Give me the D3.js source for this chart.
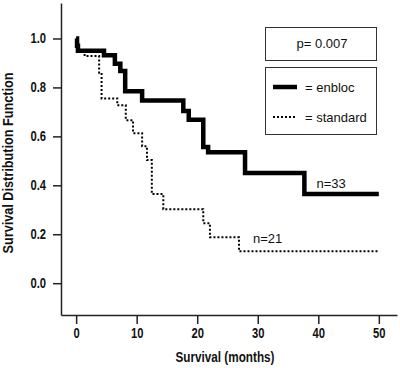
<!DOCTYPE html>
<html>
<head>
<meta charset="utf-8">
<script src="https://cdn.jsdelivr.net/npm/d3@7"></script>
<style>
  body { margin: 0; background: #fff; }
  .tick text, .lab { font-family: "Liberation Sans Narrow", "Liberation Sans", Arial, sans-serif; font-weight: bold; fill: #111; }
  .leg { font-family: "Liberation Sans", Arial, sans-serif; font-size: 13px; fill: #111; }
</style>
</head>
<body>
<svg width="400" height="368"></svg>
<script>
// Kaplan-Meier steps (months, survival)
const enblocTime = [0, 0.15, 0.3, 4.6, 6.4, 7.3, 8.1, 10.9, 17.7, 18.6, 21.0, 21.8, 27.9, 37.7, 50];
const enblocSurv = [1.0, 0.97, 0.95, 0.931, 0.897, 0.867, 0.784, 0.747, 0.704, 0.668, 0.557, 0.535, 0.450, 0.364, 0.364];
const standardTime = [0, 0.3, 1.4, 3.8, 4.2, 6.8, 8.2, 9.4, 10.9, 11.7, 12.5, 14.4, 21.0, 22.1, 26.9, 50];
const standardSurv = [1.0, 0.952, 0.928, 0.86, 0.755, 0.727, 0.666, 0.613, 0.56, 0.503, 0.364, 0.302, 0.245, 0.188, 0.131, 0.131];
const xTicks = [0, 10, 20, 30, 40, 50];
const yTicks = [0, 0.2, 0.4, 0.6, 0.8, 1.0];
const series = [
  { name: "= enbloc", n: "n=33", time: enblocTime, surv: enblocSurv },
  { name: "= standard", n: "n=21", time: standardTime, surv: standardSurv },
];
const pText = "p= 0.007";

const svg = d3.select("svg");

// squeeze text to look like a condensed face
function condense(sel, k) {
  sel.each(function () {
    const w = this.getComputedTextLength();
    d3.select(this).attr("textLength", w * k).attr("lengthAdjust", "spacingAndGlyphs");
  });
}

const x = d3.scaleLinear().domain([-2.5, 53]).range([61, 397]);
const y = d3.scaleLinear().domain([-0.13, 1.145]).range([315, 3]);

// axes
const xAxis = svg.append("g")
  .attr("transform", "translate(0,315)")
  .call(d3.axisBottom(x).tickValues(xTicks).tickSize(9).tickSizeOuter(0).tickPadding(4).tickFormat(d3.format("d")));
const yAxis = svg.append("g")
  .attr("transform", "translate(61,0)")
  .call(d3.axisLeft(y).tickValues(yTicks).tickSize(8).tickSizeOuter(0).tickPadding(7).tickFormat(d3.format(".1f")));
[xAxis, yAxis].forEach(g => {
  g.select(".domain").attr("stroke", "#222").attr("stroke-width", 1.5);
  g.selectAll(".tick line").attr("stroke", "#222").attr("stroke-width", 1.5);
  g.selectAll(".tick text").style("font-size", "14px").call(condense, 0.8);
});

svg.append("text").attr("class", "lab")
  .attr("x", 225).attr("y", 362).attr("text-anchor", "middle")
  .style("font-size", "15px").text("Survival (months)")
  .attr("textLength", 99).attr("lengthAdjust", "spacingAndGlyphs");
svg.append("text").attr("class", "lab")
  .attr("transform", "translate(13,163) rotate(-90)").attr("text-anchor", "middle")
  .style("font-size", "15px").text("Survival Distribution Function")
  .attr("textLength", 181).attr("lengthAdjust", "spacingAndGlyphs");

// curves
const line = d3.line().x(d => x(d[0])).y(d => y(d[1])).curve(d3.curveStepAfter);
const styles = [
  { width: 4.5, dash: null },
  { width: 2, dash: "2,2" },
];
series.forEach((s, i) => {
  svg.append("path")
    .datum(d3.zip(s.time, s.surv))
    .attr("d", line)
    .attr("fill", "none")
    .attr("stroke", "#000")
    .attr("stroke-width", styles[i].width)
    .attr("stroke-dasharray", styles[i].dash);
});

svg.append("text").attr("class", "leg").attr("x", x(39.7)).attr("y", y(0.389)).text(series[0].n);
svg.append("text").attr("class", "leg").attr("x", x(29.2)).attr("y", y(0.164)).text(series[1].n);

// legend boxes
svg.append("rect").attr("x", 265.5).attr("y", 27.5).attr("width", 111).attr("height", 33)
  .attr("fill", "none").attr("stroke", "#333").attr("stroke-width", 1);
svg.append("text").attr("class", "leg").attr("x", 322).attr("y", 48).attr("text-anchor", "middle").text(pText);

svg.append("rect").attr("x", 265.5).attr("y", 67.5).attr("width", 111).attr("height", 67)
  .attr("fill", "none").attr("stroke", "#333").attr("stroke-width", 1);
series.forEach((s, i) => {
  const ly = 87 + i * 30;
  svg.append("line").attr("x1", 273).attr("x2", 297).attr("y1", ly).attr("y2", ly)
    .attr("stroke", "#000").attr("stroke-width", styles[i].width)
    .attr("stroke-dasharray", styles[i].dash);
  svg.append("text").attr("class", "leg").attr("x", 305).attr("y", ly + 5).text(s.name);
});
</script>
</body>
</html>
